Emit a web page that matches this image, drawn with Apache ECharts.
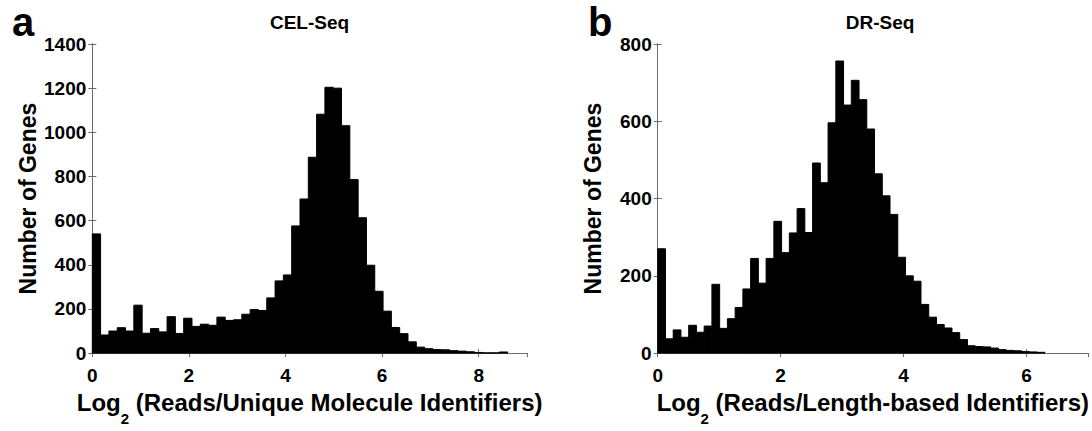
<!DOCTYPE html>
<html>
<head>
<meta charset="utf-8">
<script src="https://cdn.jsdelivr.net/npm/echarts@6/dist/echarts.min.js"></script>
<style>
html,body{margin:0;padding:0;background:#fff;}
#chart{width:1092px;height:431px;}
</style>
</head>
<body>
<div id="chart"></div>
<script>
// ---- data (histogram counts per bin) ----
const celSeqCounts = [540,82,100,115,100,217,90,111,96,165,89,158,121,131,126,163,148,151,176,197,193,250,327,354,576,698,887,1082,1204,1200,1030,786,613,398,280,190,116,88,51,27,20,16,15,11,9,6,3,1,1,5];
const celSeqBinWidth = 0.172;
const drSeqCounts = [270,37,60,41,72,54,70,178,64,89,118,166,245,181,245,341,260,311,374,312,492,441,596,756,642,706,656,580,464,407,359,248,200,186,126,93,74,65,53,35,19,17,16,13,9,7,6,4,3,2];
const drSeqBinWidth = 0.126;
const panelTitles = ['CEL-Seq', 'DR-Seq'];
const panelLetters = ['a', 'b'];
const yAxisName = 'Number of Genes';
const xAxisNames = ['(Reads/Unique Molecule Identifiers)', '(Reads/Length-based Identifiers)'];

const FONT = '"Liberation Sans", Arial, Helvetica, sans-serif';
const AXIS_COLOR = '#6b6b6b';

function binData(counts, w) {
  return counts.map((c, i) => [i * w, (i + 1) * w, c]);
}

function renderBar(params, api) {
  const p0 = api.coord([api.value(0), api.value(2)]);
  const p1 = api.coord([api.value(1), 0]);
  return {
    type: 'rect',
    shape: { x: p0[0], y: p0[1], width: p1[0] - p0[0], height: p1[1] - p0[1] },
    style: { fill: '#000', stroke: '#000', lineWidth: 1 }
  };
}

const grids = [
  { left: 92.3, top: 44, width: 434.7, height: 322 },
  { left: 657.7, top: 44, width: 445.2, height: 322 }
];
const xMax = [9, 7];
const yMax = [1400, 800];

const tickLabel = { color: '#000', fontWeight: 'bold', fontSize: 19, fontFamily: FONT, formatter: v => String(v) };

const xAxes = [], yAxes = [];
[0, 1].forEach(g => {
  xAxes.push({
    type: 'value', gridIndex: g, min: 0, max: xMax[g], interval: 2, position: 'bottom',
    axisLine: { show: true, lineStyle: { color: AXIS_COLOR, width: 1 } },
    axisTick: { show: true, inside: true, length: 4, lineStyle: { color: AXIS_COLOR } },
    axisLabel: Object.assign({ margin: 13, showMaxLabel: false }, tickLabel),
    splitLine: { show: false },
    name: '{a|Log}{s|2}{a| ' + xAxisNames[g] + '}',
    nameLocation: 'middle', nameGap: 25,
    nameTextStyle: {
      rich: {
        a: { fontSize: 24, fontWeight: 'bold', fontFamily: FONT, color: '#000', verticalAlign: 'top', lineHeight: 28 },
        s: { fontSize: 15, fontWeight: 'bold', fontFamily: FONT, color: '#000', verticalAlign: 'top', lineHeight: 16, padding: [21, 0, 0, 0] }
      }
    }
  });
  xAxes.push({
    type: 'value', gridIndex: g, min: 0, max: xMax[g], interval: 2, position: 'top',
    axisLine: { show: true, lineStyle: { color: AXIS_COLOR, width: 1 } },
    axisTick: { show: true, inside: true, length: 4, lineStyle: { color: AXIS_COLOR } },
    axisLabel: { show: false }, splitLine: { show: false }
  });
  yAxes.push({
    type: 'value', gridIndex: g, min: 0, max: yMax[g], interval: 200, position: 'left',
    axisLine: { show: true, lineStyle: { color: AXIS_COLOR, width: 1 } },
    axisTick: { show: true, inside: true, length: 4, lineStyle: { color: AXIS_COLOR } },
    axisLabel: Object.assign({ margin: 6 }, tickLabel),
    splitLine: { show: false },
    name: yAxisName, nameLocation: 'middle', nameGap: 53, nameRotate: 90,
    nameTextStyle: { fontSize: 23, fontWeight: 'bold', fontFamily: FONT, color: '#000' }
  });
  yAxes.push({
    type: 'value', gridIndex: g, min: 0, max: yMax[g], interval: 200, position: 'right',
    axisLine: { show: true, lineStyle: { color: AXIS_COLOR, width: 1 } },
    axisTick: { show: true, inside: true, length: 4, lineStyle: { color: AXIS_COLOR } },
    axisLabel: { show: false }, splitLine: { show: false }
  });
});

const chart = echarts.init(document.getElementById('chart'), null, { renderer: 'svg' });
chart.setOption({
  animation: false,
  backgroundColor: '#fff',
  grid: grids,
  xAxis: xAxes,
  yAxis: yAxes,
  series: [
    { type: 'custom', xAxisIndex: 0, yAxisIndex: 0, renderItem: renderBar, data: binData(celSeqCounts, celSeqBinWidth), z: 1 },
    { type: 'custom', xAxisIndex: 2, yAxisIndex: 2, renderItem: renderBar, data: binData(drSeqCounts, drSeqBinWidth), z: 1 }
  ],
  graphic: [
    { type: 'text', x: 309.5, y: 13, style: { text: panelTitles[0], textAlign: 'center', fontSize: 19, fontWeight: 'bold', fontFamily: FONT, fill: '#000' } },
    { type: 'text', x: 880, y: 13, style: { text: panelTitles[1], textAlign: 'center', fontSize: 19, fontWeight: 'bold', fontFamily: FONT, fill: '#000' } },
    { type: 'text', x: 12, y: 2, style: { text: panelLetters[0], fontSize: 40, fontWeight: 'bold', fontFamily: FONT, fill: '#000' } },
    { type: 'text', x: 588, y: 2, style: { text: panelLetters[1], fontSize: 40, fontWeight: 'bold', fontFamily: FONT, fill: '#000' } }
  ]
});
</script>
</body>
</html>
